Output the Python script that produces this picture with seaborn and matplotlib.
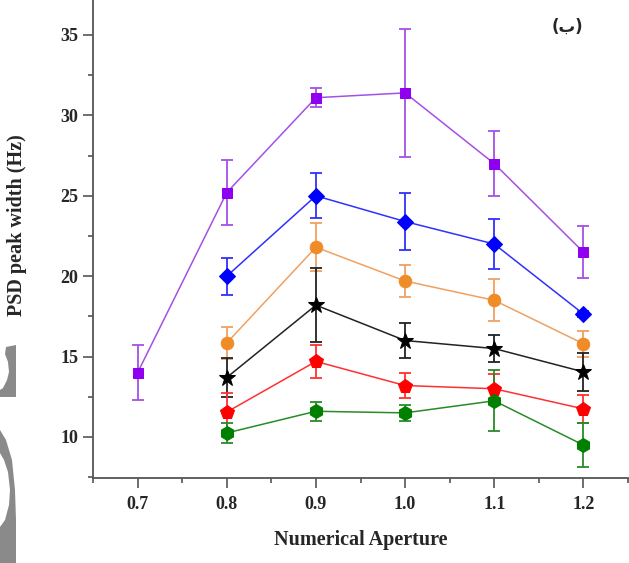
import numpy as np
import pandas as pd
import matplotlib
matplotlib.use("Agg")
import matplotlib.pyplot as plt
import seaborn as sns
from matplotlib.ticker import MultipleLocator
from matplotlib.patches import Polygon

# ---------------- data ----------------
na = [0.7, 0.8, 0.9, 1.0, 1.1, 1.2]

purple_y = [14.0, 25.2, 31.1, 31.4, 27.0, 21.5]
purple_e = [1.7, 2.0, 0.6, 4.0, 2.0, 1.6]

blue_y = [20.0, 25.0, 23.4, 22.0, 17.65]
blue_e = [1.15, 1.4, 1.8, 1.55, 0.2]

orange_y = [15.85, 21.8, 19.7, 18.5, 15.8]
orange_e = [1.0, 1.5, 1.0, 1.3, 0.8]

black_y = [13.7, 18.2, 16.0, 15.5, 14.05]
black_e = [1.2, 2.3, 1.1, 0.85, 1.2]

red_y = [11.55, 14.7, 13.2, 13.0, 11.75]
red_e = [1.2, 1.0, 0.8, 0.9, 0.85]

green_y = [10.25, 11.6, 11.5, 12.25, 9.5]
green_e = [0.65, 0.6, 0.5, 1.9, 1.35]

# ---------------- style ----------------
sns.set_style("ticks")
plt.rcParams['font.family'] = ['Liberation Serif', 'DejaVu Sans']
plt.rcParams['font.weight'] = 'bold'

W, H = 629, 563
fig = plt.figure(figsize=(W / 100, H / 100), dpi=100)
ax = fig.add_axes([93 / W, 1 - 478 / H, 535 / W, (478 + 5.2) / H])

series = [
    # x, y, err, line colour, marker colour, marker, size
    (na, purple_y, purple_e, "#a450e6", "#8f00f0", "s", 7.5),
    (na[1:], blue_y, blue_e, "#3030ff", "#0000ff", "D", 8),
    (na[1:], orange_y, orange_e, "#f0a060", "#f08c28", "o", 9),
    (na[1:], black_y, black_e, "#222222", "#000000", "*", 12),
    (na[1:], red_y, red_e, "#ff3030", "#ff0000", "p", 10),
    (na[1:], green_y, green_e, "#2a8a2a", "#008000", "h", 10),
]

for x, y, e, lc, mc, mk, ms in series:
    df = pd.DataFrame({"NA": x, "width": y})
    ax.errorbar(x, y, yerr=e, fmt="none", ecolor=lc, elinewidth=1.3,
                capsize=4, capthick=1.3, zorder=2)
    sns.lineplot(data=df, x="NA", y="width", ax=ax, color=lc, linewidth=1.1,
                 marker=mk, markersize=ms, markerfacecolor=mc,
                 markeredgecolor=mc, zorder=3)

ax.set_xlim(0.65, 1.25)
ax.set_ylim(7.45, 37.5)
ax.set_xticks(na)
ax.set_xticklabels([f"{v:.1f}" for v in na])
ax.xaxis.set_minor_locator(MultipleLocator(0.05))
ax.yaxis.set_major_locator(MultipleLocator(5))
ax.yaxis.set_minor_locator(MultipleLocator(2.5))
ax.tick_params(axis="both", which="major", length=7, width=1.2, color="#555555",
               labelsize=13)
ax.tick_params(axis="x", which="major", pad=6)
ax.tick_params(axis="both", which="minor", length=3.5, width=1.2, color="#555555")
for lab in ax.get_xticklabels() + ax.get_yticklabels():
    lab.set_fontweight("bold")

sns.despine(ax=ax)
for s in ["left", "bottom"]:
    ax.spines[s].set_color("#555555")
    ax.spines[s].set_linewidth(1.3)

ax.set_xlabel("Numerical Aperture", fontsize=14.5, fontweight="bold", labelpad=12)
ax.set_ylabel("PSD peak width (Hz)", fontsize=14.5, fontweight="bold", labelpad=14)
ax.yaxis.set_label_coords(-(93 - 27) / 535, (478 - 225) / 483.2)

fig.text(567 / W, 1 - 27 / H, "(ب)", fontsize=12, ha="center", va="center",
         family=["DejaVu Sans"])

# grey decoration at the left edge of the scanned figure
upper = [(6, 347), (16, 345), (16, 397), (0, 397), (0, 390), (3, 388), (7, 380),
         (9, 372), (8, 362), (5, 354)]
lower = [(0, 430), (6, 440), (12, 460), (15, 490), (16, 520), (16, 563), (0, 563),
         (0, 527), (5, 520), (9, 505), (10, 490), (8, 472), (4, 460), (0, 453)]
for pts in (upper, lower):
    fig.patches.append(Polygon([(px / W, 1 - py / H) for px, py in pts],
                               closed=True, transform=fig.transFigure,
                               facecolor="#8a8a8a", edgecolor="none"))

fig.savefig("out.png", dpi=100)
